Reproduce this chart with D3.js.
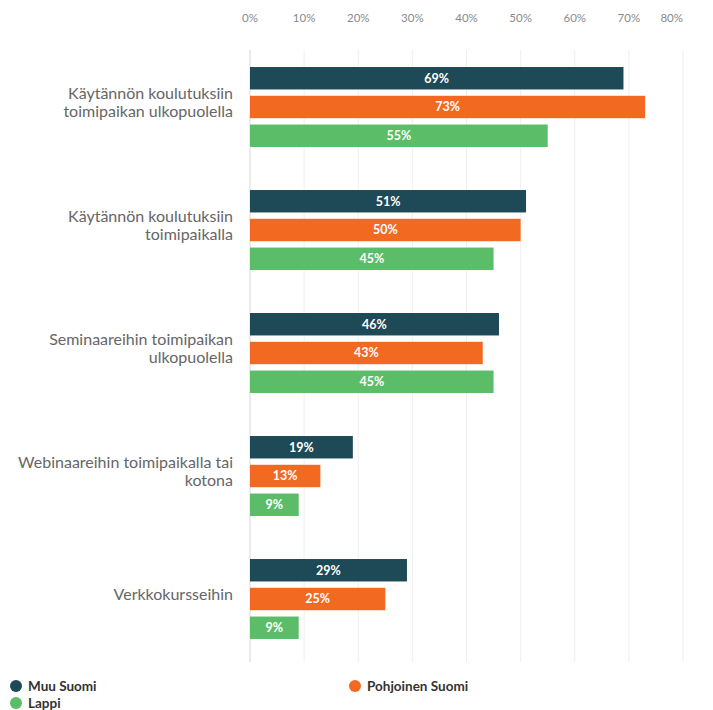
<!DOCTYPE html>
<html>
<head>
<meta charset="utf-8">
<script src="https://cdn.jsdelivr.net/npm/d3@7"></script>
<style>
  body { margin: 0; background: #fff; }
  svg { font-family: Lato, "Open Sans", sans-serif; }
</style>
</head>
<body>
<svg id="chart" width="713" height="710"></svg>
<script>
var categories = [
  ["Käytännön koulutuksiin", "toimipaikan ulkopuolella"],
  ["Käytännön koulutuksiin", "toimipaikalla"],
  ["Seminaareihin toimipaikan", "ulkopuolella"],
  ["Webinaareihin toimipaikalla tai", "kotona"],
  ["Verkkokursseihin"]
]
var seriesNames = ["Muu Suomi", "Pohjoinen Suomi", "Lappi"]
var muuSuomi = [69, 51, 46, 19, 29]
var pohjoinenSuomi = [73, 50, 43, 13, 25]
var lappi = [55, 45, 45, 9, 9]
var tickValues = [0, 10, 20, 30, 40, 50, 60, 70, 80]

var colors = ["#1e4956", "#f26a22", "#5bbd68"]
var seriesValues = [muuSuomi, pohjoinenSuomi, lappi]

var svg = d3.select("#chart")
var catIdx = categories.map(function(d, i) { return i })

var xScale = d3.scaleLinear().domain([0, 80]).range([250, 683])

var yScale = d3.scaleBand()
  .domain(catIdx)
  .range([45.5, 660.5])
  .paddingInner(0.35)
  .paddingOuter(0.175)

var yInner = d3.scaleBand()
  .domain(seriesNames)
  .range([0, yScale.bandwidth()])
  .paddingInner(0.22)

var color = d3.scaleOrdinal().domain(seriesNames).range(colors)

// grid lines
svg.append("g").selectAll("line")
  .data(tickValues)
  .enter()
  .append("line")
    .attr("x1", function(d) { return xScale(d) })
    .attr("x2", function(d) { return xScale(d) })
    .attr("y1", 50)
    .attr("y2", 662)
    .attr("stroke", function(d) { return d == 0 ? "#d8d8d8" : "#efefef" })
    .attr("stroke-width", 1)

// top tick labels
svg.append("g").selectAll("text")
  .data(tickValues)
  .enter()
  .append("text")
    .attr("x", function(d) { return xScale(d) })
    .attr("y", 22)
    .attr("text-anchor", function(d, i) { return i == tickValues.length - 1 ? "end" : "middle" })
    .style("font-size", "11.5px")
    .style("fill", "#8a8a8a")
    .text(function(d) { return d + "%" })

// bars
var groups = svg.append("g").selectAll("g")
  .data(catIdx)
  .enter()
  .append("g")
    .attr("transform", function(d) { return "translate(0," + yScale(d) + ")" })

var cells = groups.selectAll("g")
  .data(function(c) {
    return seriesNames.map(function(s, j) { return {name: s, value: seriesValues[j][c]} })
  })
  .enter()
  .append("g")

cells.append("rect")
  .attr("x", xScale(0))
  .attr("y", function(d) { return yInner(d.name) })
  .attr("width", function(d) { return xScale(d.value) - xScale(0) })
  .attr("height", yInner.bandwidth())
  .attr("fill", function(d) { return color(d.name) })

cells.append("text")
  .attr("x", function(d) { return (xScale(d.value) + xScale(0)) / 2 })
  .attr("y", function(d) { return yInner(d.name) + yInner.bandwidth() / 2 })
  .attr("dy", "0.35em")
  .attr("text-anchor", "middle")
  .style("font-size", "12.5px")
  .style("font-weight", "bold")
  .style("fill", "#ffffff")
  .text(function(d) { return d.value + "%" })

// category labels
var labels = svg.append("g").selectAll("text")
  .data(catIdx)
  .enter()
  .append("text")
    .attr("text-anchor", "end")
    .attr("x", 233)
    .attr("y", function(d) {
      var mid = yScale(d) + yScale.bandwidth() / 2
      return mid - (categories[d].length - 1) * 9 + 1
    })
    .attr("dy", "0.35em")
    .style("font-size", "16px")
    .style("fill", "#666")

labels.selectAll("tspan")
  .data(function(d) { return categories[d] })
  .enter()
  .append("tspan")
    .attr("x", 233)
    .attr("dy", function(d, i) { return i == 0 ? 0 : 18 })
    .text(function(d) { return d })

// legend
var legendPos = [[16, 686], [355, 686], [16, 703]]
var legend = svg.append("g").selectAll("g")
  .data(seriesNames)
  .enter()
  .append("g")
    .attr("transform", function(d, i) { return "translate(" + legendPos[i][0] + "," + legendPos[i][1] + ")" })

legend.append("circle")
  .attr("r", 6)
  .attr("fill", function(d) { return color(d) })

legend.append("text")
  .attr("x", 12)
  .attr("dy", "0.35em")
  .style("font-size", "13.5px")
  .style("font-weight", "bold")
  .style("fill", "#333")
  .text(function(d) { return d })
</script>
</body>
</html>
